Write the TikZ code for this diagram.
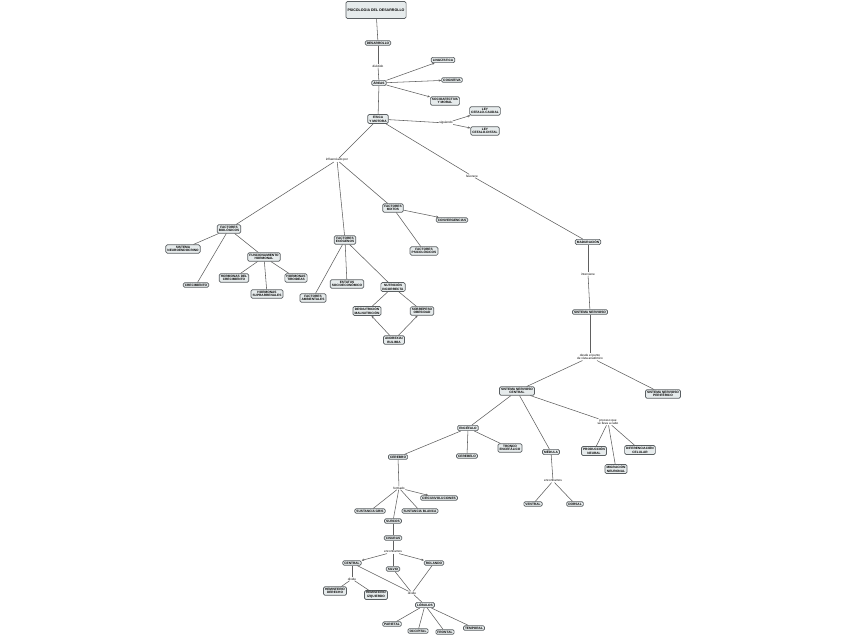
\documentclass[tikz,border=0pt]{standalone}
\usepackage{fontspec}
\setmainfont{Liberation Sans}
\usetikzlibrary{arrows.meta}
\definecolor{boxfill}{HTML}{E6EBEC}
\definecolor{boxline}{HTML}{5A5F62}
\definecolor{conn}{HTML}{606060}
\tikzset{
  concept/.style={draw=boxline, fill=boxfill, line width=0.7pt, rounded corners=1.4pt,
    inner xsep=1.6pt, inner ysep=1.2pt, align=center,
    font=\fontsize{3.2}{3.7}\selectfont\bfseries},
  title/.style={concept, minimum width=59pt, minimum height=17pt, font=\fontsize{3.6}{4.2}\selectfont\bfseries},
  link/.style={fill=white, inner sep=0.4pt, align=center, font=\fontsize{3.1}{3.6}\selectfont},
  conline/.style={draw=conn, line width=0.55pt},
  arr/.style={conline, -{Stealth[length=2.6pt,width=2.2pt]}},
}
\begin{document}
\begin{tikzpicture}[x=1pt,y=-1pt]
\useasboundingbox[fill=white] (0,0) rectangle (848,638);
% nodes
\node[title] (psi) at (376,10) {PSICOLOGIA DEL DESARROLLO};
\node[concept] (des) at (378,43) {DESARROLLO};
\node[link] (ldiv) at (378,66) {dividido};
\node[concept] (are) at (379,83) {ÁREAS};
\node[concept] (lin) at (443,60) {LINGÜÍSTICA};
\node[concept] (cog) at (452,80) {COGNITIVA};
\node[concept] (soc) at (445,101) {SOCIOAFECTIVA\\Y MORAL};
\node[concept] (fis) at (378,119) {FÍSICA\\Y MOTORA};
\node[link] (lsig) at (446,123) {siguiendo};
\node[concept] (leyc) at (485,111) {LEY\\CEFALO-CAUDAL};
\node[concept] (leyd) at (485,131) {LEY\\CEFALO-DISTAL};
\node[link] (linf) at (337,160) {influenciado por};
\node[concept] (bio) at (229,229) {FACTORES\\BIOLÓGICOS};
\node[concept] (neu) at (183,249) {SISTEMA\\NEUROENDOCRINO};
\node[concept] (cre) at (196,285) {CRECIMIENTO};
\node[concept] (fun) at (264,257) {FUNCIONAMIENTO\\HORMONAL};
\node[concept] (hdc) at (234,278) {HORMONAS DEL\\CRECIMIENTO};
\node[concept] (hsu) at (267,294) {HORMONAS\\SUPRARRENALES};
\node[concept] (hti) at (296,278) {HORMONAS\\TIROIDEAS};
\node[concept] (exo) at (345,240) {FACTORES\\EXÓGENOS};
\node[concept] (amb) at (313,298) {FACTORES\\AMBIENTALES};
\node[concept] (est) at (347,284) {ESTATUS\\SOCIOECONÓMICO};
\node[concept] (nut) at (393,287) {NUTRICIÓN\\INCORRECTA};
\node[concept] (dsn) at (367,311) {DESNUTRICIÓN\\MALNUTRICIÓN};
\node[concept] (sob) at (422,311) {SOBREPESO\\OBESIDAD};
\node[concept] (ano) at (394,340) {ANOREXIA/\\BULIMIA};
\node[concept] (mix) at (393,208) {FACTORES\\MIXTOS};
\node[concept] (conv) at (452,220) {CONVERGENCIAS};
\node[concept] (psic) at (424,251) {FACTORES\\PSICOLÓGICOS};
\node[link] (lfav) at (472,176) {favorece};
\node[concept] (mad) at (588,242) {MADURACIÓN};
\node[link] (lint) at (588,274) {interviene};
\node[concept] (sn) at (590,312) {SISTEMA NERVIOSO};
\node[link] (ldes) at (590,357) {desde el punto\\de vista anatómico};
\node[concept] (snc) at (517,391) {SISTEMA NERVIOSO\\CENTRAL};
\node[concept] (snp) at (663,394) {SISTEMA NERVIOSO\\PERIFÉRICO};
\node[link] (lpro) at (608,422) {proceso que\\se lleva a cabo};
\node[concept] (prod) at (594,451) {PRODUCCIÓN\\NEURAL};
\node[concept] (mig) at (616,469) {MIGRACIÓN\\NEURONAL};
\node[concept] (dif) at (640,450) {DIFERENCIACIÓN\\CELULAR};
\node[concept] (enc) at (468,428) {ENCÉFALO};
\node[concept] (tro) at (510,448) {TRONCO\\ENCEFÁLICO};
\node[concept] (med) at (551,452) {MÉDULA};
\node[link] (lenca) at (553,481) {encontramos};
\node[concept] (ven) at (533,504) {VENTRAL};
\node[concept] (dor) at (575,504) {DORSAL};
\node[concept] (cer) at (398,457) {CEREBRO};
\node[concept] (cbl) at (467,456) {CEREBELO};
\node[link] (lfor) at (399,488) {formado};
\node[concept] (cir) at (439,498) {CIRCUNVOLUCIONES};
\node[concept] (sgr) at (370,511) {SUSTANCIA GRIS};
\node[concept] (sbl) at (420,511) {SUSTANCIA BLANCA};
\node[concept] (sur) at (393,521) {SURCOS};
\node[concept] (cis) at (393,538) {CISURAS};
\node[link] (lencb) at (393,552) {encontramos};
\node[concept] (cen) at (352,563) {CENTRAL};
\node[concept] (sil) at (393,569) {SILVIO};
\node[concept] (rol) at (434,563) {ROLANDO};
\node[link] (ldivb) at (352,579) {divide};
\node[concept] (hde) at (335,591) {HEMISFERIO\\DERECHO};
\node[concept] (hiz) at (376,595) {HEMISFERIO\\IZQUIERDO};
\node[link] (ldivc) at (412,593) {divide};
\node[concept] (lob) at (425,605) {LÓBULOS};
\node[concept] (par) at (392,624) {PARIETAL};
\node[concept] (occ) at (418,631) {OCCIPITAL};
\node[concept] (fro) at (445,632) {FRONTAL};
\node[concept] (tem) at (474,628) {TEMPORAL};
% connectors
\draw[conline] (psi) -- (des);
\draw[conline] (des) -- (ldiv);
\draw[conline] (ldiv) -- (are);
\draw[arr] (are) -- (lin);
\draw[arr] (are) -- (cog);
\draw[arr] (are) -- (soc);
\draw[conline] (are) -- (fis);
\draw[conline] (fis) -- (lsig);
\draw[arr] (lsig) -- (leyc);
\draw[arr] (lsig) -- (leyd);
\draw[conline] (fis) -- (linf);
\draw[conline] (linf) -- (bio);
\draw[conline] (linf) -- (exo);
\draw[conline] (linf) -- (mix);
\draw[conline] (bio) -- (neu);
\draw[conline] (bio) -- (cre);
\draw[conline] (bio) -- (fun);
\draw[conline] (fun) -- (hdc);
\draw[conline] (fun) -- (hsu);
\draw[conline] (fun) -- (hti);
\draw[conline] (exo) -- (amb);
\draw[conline] (exo) -- (est);
\draw[conline] (exo) -- (nut);
\draw[conline] (nut) -- (dsn);
\draw[conline] (nut) -- (sob);
\draw[arr] (ano) -- (dsn);
\draw[arr] (ano) -- (sob);
\draw[arr] (mix) -- (conv);
\draw[conline] (mix) -- (psic);
\draw[conline] (fis) -- (lfav);
\draw[conline] (lfav) -- (mad);
\draw[conline] (mad) -- (lint);
\draw[conline] (lint) -- (sn);
\draw[conline] (sn) -- (ldes);
\draw[conline] (ldes) -- (snc);
\draw[conline] (ldes) -- (snp);
\draw[conline] (snc) -- (lpro);
\draw[conline] (lpro) -- (prod);
\draw[conline] (lpro) -- (mig);
\draw[conline] (lpro) -- (dif);
\draw[conline] (snc) -- (enc);
\draw[conline] (snc) -- (med);
\draw[conline] (enc) -- (cer);
\draw[conline] (enc) -- (cbl);
\draw[conline] (enc) -- (tro);
\draw[conline] (med) -- (lenca);
\draw[conline] (lenca) -- (ven);
\draw[conline] (lenca) -- (dor);
\draw[conline] (cer) -- (lfor);
\draw[arr] (lfor) -- (cir);
\draw[conline] (lfor) -- (sgr);
\draw[conline] (lfor) -- (sbl);
\draw[conline] (lfor) -- (sur);
\draw[conline] (sur) -- (cis);
\draw[conline] (cis) -- (lencb);
\draw[arr] (lencb) -- (cen);
\draw[conline] (lencb) -- (sil);
\draw[arr] (lencb) -- (rol);
\draw[conline] (cen) -- (ldivb);
\draw[conline] (ldivb) -- (hde);
\draw[conline] (ldivb) -- (hiz);
\draw[conline] (cen) -- (ldivc);
\draw[conline] (sil) -- (ldivc);
\draw[conline] (rol) -- (ldivc);
\draw[conline] (ldivc) -- (lob);
\draw[conline] (lob) -- (par);
\draw[conline] (lob) -- (occ);
\draw[conline] (lob) -- (fro);
\draw[conline] (lob) -- (tem);
\end{tikzpicture}
\end{document}
